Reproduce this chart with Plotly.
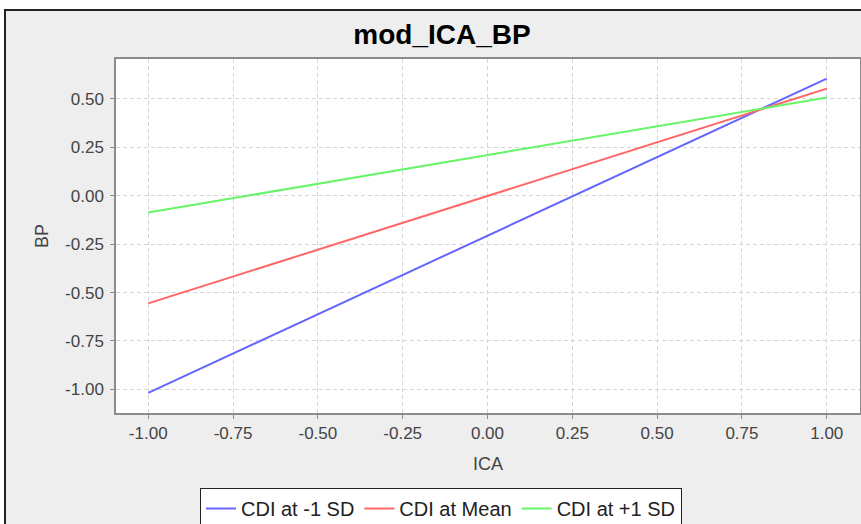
import plotly.graph_objects as go

# ---- data ----
ica = [-1.0, 1.0]
bp_low = [-1.018, 0.605]    # CDI at -1 SD
bp_mean = [-0.556, 0.553]   # CDI at Mean
bp_high = [-0.087, 0.507]   # CDI at +1 SD
series_names = ["CDI at -1 SD", "CDI at Mean", "CDI at +1 SD"]
series_colors = ["#6666FF", "#FF6666", "#66F566"]
tick_vals_x = [-1.0, -0.75, -0.5, -0.25, 0.0, 0.25, 0.5, 0.75, 1.0]
tick_text_x = ["-1.00", "-0.75", "-0.50", "-0.25", "0.00", "0.25", "0.50", "0.75", "1.00"]
tick_vals_y = [-1.0, -0.75, -0.5, -0.25, 0.0, 0.25, 0.5]
tick_text_y = ["-1.00", "-0.75", "-0.50", "-0.25", "0.00", "0.25", "0.50"]

W, H = 861, 524
ML, MR, MT, MB = 116, 1, 59, 111
PW = W - ML - MR
PH = H - MT - MB

def px_x(p):
    return (p - ML) / PW

def px_y(p):
    return (H - MB - p) / PH

FONT = "Liberation Sans, Arial, sans-serif"

fig = go.Figure()
for ys, name, col in zip([bp_low, bp_mean, bp_high], series_names, series_colors):
    fig.add_trace(go.Scatter(x=ica, y=ys, mode="lines", name=name,
                             line=dict(color=col, width=2)))

axis_common = dict(
    showline=True, linecolor="#8C8C8C", linewidth=1.5, mirror=True,
    showgrid=True, gridcolor="#D6D6D6", gridwidth=1, griddash="4px,3px",
    zeroline=False, ticks="outside", ticklen=4, tickcolor="#8C8C8C", tickwidth=1,
    tickfont=dict(family=FONT, size=17, color="#444444"),
    automargin=False,
)

fig.update_xaxes(range=[-1.095, 1.098], tickvals=tick_vals_x, ticktext=tick_text_x,
                 title=dict(text="ICA", font=dict(family=FONT, size=18, color="#444444"), standoff=15),
                 ticklabelstandoff=0, **axis_common)
fig.update_yaxes(range=[-1.122, 0.706], tickvals=tick_vals_y, ticktext=tick_text_y,
                 title=dict(text="BP", font=dict(family=FONT, size=18, color="#444444"), standoff=12),
                 ticklabelstandoff=3, **axis_common)

fig.update_layout(
    width=W, height=H,
    margin=dict(l=ML, r=MR, t=MT, b=MB, autoexpand=False),
    paper_bgcolor="#EEEEEE", plot_bgcolor="white",
    title=dict(text="mod_ICA_BP", x=442 / W, xanchor="center", xref="container",
               y=1 - 34 / H, yanchor="middle", yref="container",
               font=dict(family=FONT, size=28, color="#000000", weight="bold")),
    showlegend=True,
    legend=dict(orientation="h", x=px_x(441), xanchor="center",
                y=px_y(488), yanchor="top",
                bgcolor="white", bordercolor="#222222", borderwidth=1,
                font=dict(family=FONT, size=20, color="#222222"),
                itemwidth=30, traceorder="normal"),
    shapes=[
        # white page strips outside the chart border
        dict(type="rect", xref="paper", yref="paper",
             x0=px_x(-20), x1=px_x(5), y0=px_y(560), y1=px_y(-20),
             fillcolor="white", line=dict(width=0), layer="below"),
        dict(type="rect", xref="paper", yref="paper",
             x0=px_x(-20), x1=px_x(900), y0=px_y(10), y1=px_y(-20),
             fillcolor="white", line=dict(width=0), layer="below"),
        # chart border
        dict(type="rect", xref="paper", yref="paper",
             x0=px_x(5), x1=px_x(885), y0=px_y(545), y1=px_y(10),
             fillcolor="rgba(0,0,0,0)", line=dict(color="#222222", width=2),
             layer="below"),
    ],
)

fig.write_html("out.html", config={"displayModeBar": False},
               post_script="document.body.style.margin='0';")
